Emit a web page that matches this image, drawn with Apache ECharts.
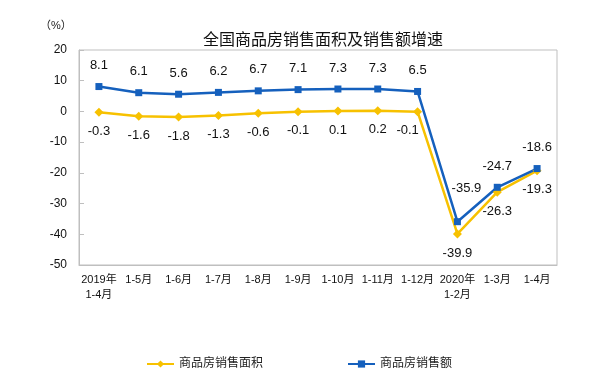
<!DOCTYPE html>
<html><head><meta charset="utf-8">
<script src="https://cdn.jsdelivr.net/npm/echarts@6/dist/echarts.min.js"></script>
<style>html,body{margin:0;padding:0;background:#fff}#c{width:597px;height:380px}</style>
</head><body><div id="c"></div>
<script>
const categories = ['2019年\n1-4月','1-5月','1-6月','1-7月','1-8月','1-9月','1-10月','1-11月','1-12月','2020年\n1-2月','1-3月','1-4月'];
const areaGrowth = [-0.3,-1.6,-1.8,-1.3,-0.6,-0.1,0.1,0.2,-0.1,-39.9,-26.3,-19.3];
const salesGrowth = [8.1,6.1,5.6,6.2,6.7,7.1,7.3,7.3,6.5,-35.9,-24.7,-18.6];
const seriesNames = ['商品房销售面积','商品房销售额'];
const titleText = '全国商品房销售面积及销售额增速';
const unitText = '（%）';

const font = '"Liberation Sans","Noto Sans CJK SC",sans-serif';
const areaData = areaGrowth.map((v,i)=> i===8 ? {value:v,label:{offset:[-10,0]}} : v);
const salesData = salesGrowth.map((v,i)=> i===9 ? {value:v,label:{offset:[9,-12]}} : v);
const chart = echarts.init(document.getElementById('c'), null, {renderer:'canvas'});
chart.setOption({
  animation:false,
  textStyle:{fontFamily:font},
  title:{text:titleText,left:198,top:28,textStyle:{fontSize:16,fontWeight:'normal',color:'#111',fontFamily:font}},
  graphic:[{type:'text',left:40,top:20,style:{text:unitText,fontSize:11,fill:'#222',fontFamily:font}}],
  legend:{bottom:5,left:141,itemWidth:27,itemHeight:9,itemGap:84,
    textStyle:{fontSize:12,color:'#222',fontFamily:font},
    data:[seriesNames[0],seriesNames[1]]},
  grid:{left:79,right:40,top:50,bottom:115,show:true,borderColor:'#bfbfbf',borderWidth:1},
  xAxis:{type:'category',data:categories,boundaryGap:true,
    axisLine:{onZero:false,lineStyle:{color:'#bfbfbf'}},
    axisTick:{inside:true,length:5,lineStyle:{color:'#bfbfbf'}},
    axisLabel:{interval:0,fontSize:11,color:'#111',margin:7,lineHeight:15,fontFamily:font}},
  yAxis:{type:'value',min:-50,max:20,interval:10,
    axisLine:{show:true,lineStyle:{color:'#bfbfbf'}},
    axisTick:{show:true,inside:true,length:5,lineStyle:{color:'#bfbfbf'}},
    splitLine:{show:false},
    axisLabel:{fontSize:12,color:'#111',margin:12,fontFamily:font}},
  series:[
    {name:seriesNames[0],type:'line',data:areaData,symbol:'diamond',symbolSize:9,
     itemStyle:{color:'#F7C100'},lineStyle:{color:'#F7C100',width:2.5},
     label:{show:true,position:'bottom',distance:8,fontSize:13,color:'#111',fontFamily:font}},
    {name:seriesNames[1],type:'line',data:salesData,symbol:'rect',symbolSize:7,
     itemStyle:{color:'#1560BD'},lineStyle:{color:'#1560BD',width:2.5},
     label:{show:true,position:'top',distance:11,fontSize:13,color:'#111',fontFamily:font}}
  ]
});
</script></body></html>
